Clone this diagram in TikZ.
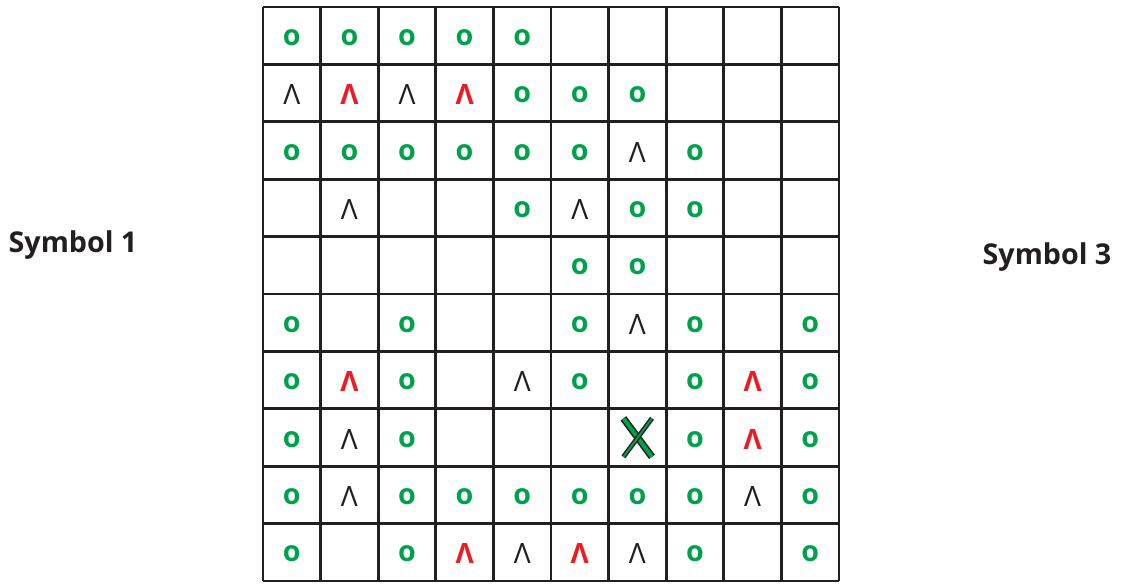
\documentclass[tikz,border=0pt]{standalone}
\usepackage{fontspec}
\setmainfont{Open Sans}
\definecolor{gridink}{HTML}{231F20}
\definecolor{symgreen}{HTML}{00A14B}
\definecolor{symred}{HTML}{ED1C24}
\tikzset{
  cell/.style={inner sep=0pt, font=\fontsize{21}{21}\selectfont},
  sym-o/.style={cell, font=\fontsize{21.5}{21}\selectfont\bfseries, text=symgreen, node contents={o}},
  sym-k/.style={cell, text=gridink, node contents={Λ}},
  sym-r/.style={cell, font=\fontsize{21}{21}\selectfont\bfseries, text=symred, node contents={Λ}},
  sym-n/.style={cell, node contents={}},
  side/.style={font=\fontsize{21.5}{21}\selectfont\bfseries, text=gridink},
  gridline/.style={line width=2pt, draw=gridink},
}
\begin{document}
\begin{tikzpicture}[x=0.75pt, y=-0.75pt]
  \useasboundingbox (0,0) rectangle (1122,584);
  % board lines
  \foreach \i in {0,...,10} {
    \draw[gridline] (263+57.6*\i, 7) -- (263+57.6*\i, 581);
    \draw[gridline] (263, 7+57.4*\i) -- (839, 7+57.4*\i);
  }
  % cell symbols, row by row
  \foreach \row/\cells in {
      1/{o,o,o,o,o,n,n,n,n,n},
      2/{k,r,k,r,o,o,o,n,n,n},
      3/{o,o,o,o,o,o,k,o,n,n},
      4/{n,k,n,n,o,k,o,o,n,n},
      5/{n,n,n,n,n,o,o,n,n,n},
      6/{o,n,o,n,n,o,k,o,n,o},
      7/{o,r,o,n,k,o,n,o,r,o},
      8/{o,k,o,n,n,n,n,o,r,o},
      9/{o,k,o,o,o,o,o,o,k,o},
      10/{o,n,o,r,k,r,k,o,n,o}} {
    \foreach \s [count=\col] in \cells {
      \node (c\row-\col) at (263+57.6*\col-28.8, 7+57.4*\row-27) [sym-\s];
    }
  }
  % the X mark
  \node[cell, minimum width=21pt, minimum height=28.5pt] (xmark) at (637.7, 437.6) {};
  \draw[line width=1.2pt, draw=gridink, double=symgreen, double distance=3pt]
    (xmark.north west) -- (xmark.south east);
  \draw[line width=1.1pt, draw=gridink, double=symgreen, double distance=1.4pt]
    (xmark.north east) -- (xmark.south west);
  % labels
  \node[side] (sym1) at (73, 245) {Symbol 1};
  \node[side] (sym3) at (1047, 257) {Symbol 3};
\end{tikzpicture}
\end{document}
